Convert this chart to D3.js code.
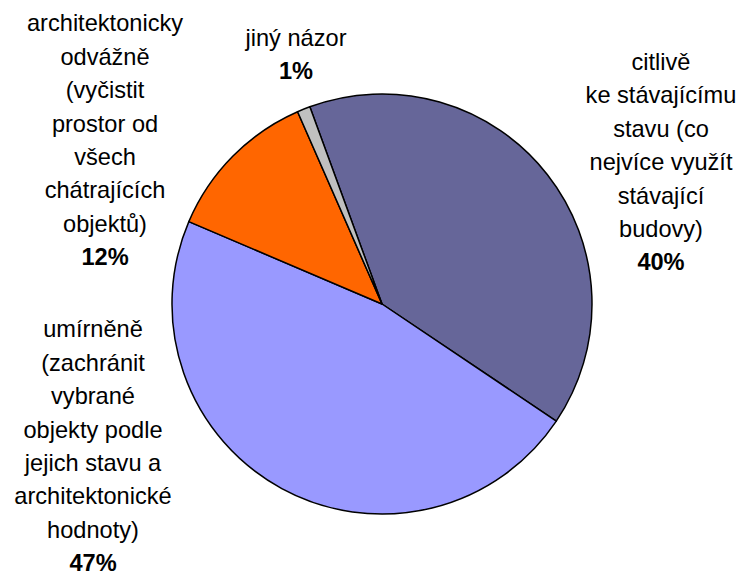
<!DOCTYPE html>
<html>

<head>
  <meta charset="utf-8">
  <script src="https://d3js.org/d3.v7.min.js"></script>
  <style>
    body {
      margin: 0;
      background: #fff;
    }

    text {
      font-family: "Liberation Sans", Arial, sans-serif;
      font-size: 23.6px;
      fill: #000;
    }
  </style>
</head>

<body>
  <div id="chart"></div>
  <script>
    // data
    var categories = [
      "citlivě ke stávajícímu stavu (co nejvíce využít stávající budovy)",
      "umírněně (zachránit vybrané objekty podle jejich stavu a architektonické hodnoty)",
      "architektonicky odvážně (vyčistit prostor od všech chátrajících objektů)",
      "jiný názor"
    ];
    var values = [40, 47, 12, 1];
    var percentLabels = ["40%", "47%", "12%", "1%"];
    var labelLines = [
      ["citlivě", "ke stávajícímu", "stavu (co", "nejvíce využít", "stávající", "budovy)"],
      ["umírněně", "(zachránit", "vybrané", "objekty podle", "jejich stavu a", "architektonické", "hodnoty)"],
      ["architektonicky", "odvážně", "(vyčistit", "prostor od", "všech", "chátrajících", "objektů)"],
      ["jiný názor"]
    ];
    var colors = ["#666699", "#9999ff", "#ff6600", "#c0c0c0"];

    var width = 740, height = 577;
    var cx = 382, cy = 304, radius = 210;
    var lineHeight = 33.4;

    // label block centres (Excel best-fit placement), relative to pie centre
    var labelPos = [
      [279, -142],
      [-289, 142],
      [-277, -164],
      [-86, -250]
    ];

    var svg = d3.select("#chart").append("svg")
      .attr("width", width)
      .attr("height", height);

    var pie = d3.pie()
      .sort(null)
      .startAngle(-20.1 * Math.PI / 180)
      .endAngle(-20.1 * Math.PI / 180 + 2 * Math.PI)
      .value(d => d);

    var arc = d3.arc()
      .innerRadius(0)
      .outerRadius(radius);

    var g = svg.append("g").attr("transform", "translate(" + cx + "," + cy + ")");

    var arcs = pie(values);

    g.selectAll("path")
      .data(arcs)
      .enter().append("path")
      .attr("d", arc)
      .attr("fill", (d, i) => colors[i])
      .attr("stroke", "#000")
      .attr("stroke-width", 1.5)
      .attr("stroke-linejoin", "round");

    var labels = g.selectAll("text.label")
      .data(arcs)
      .enter().append("text")
      .attr("class", "label")
      .attr("text-anchor", "middle");

    labels.each(function (d, i) {
      var lines = labelLines[i].concat([percentLabels[i]]);
      var n = lines.length;
      var x = labelPos[i][0];
      var y0 = labelPos[i][1] - (n - 1) * lineHeight / 2;
      var t = d3.select(this);
      lines.forEach(function (s, j) {
        t.append("tspan")
          .attr("x", x)
          .attr("y", y0 + j * lineHeight)
          .attr("dy", "0.35em")
          .style("font-weight", j == n - 1 ? "bold" : null)
          .text(s);
      });
    });
  </script>
</body>
</html>
